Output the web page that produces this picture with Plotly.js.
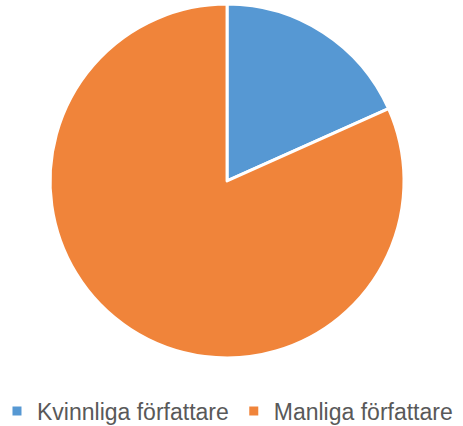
<!DOCTYPE html>
<html>
<head>
<meta charset="utf-8">
<script src="https://cdn.plot.ly/plotly-3.0.1.min.js"></script>
<style>html,body{margin:0;padding:0;background:#fff;}#chart{width:463px;height:426px;}</style>
</head>
<body>
<div id="chart"></div>
<script>
const labels = ["Kvinnliga författare", "Manliga författare"];
const values = [18.3, 81.7];
const colors = ["#5698D3", "#F0843A"];

Plotly.newPlot("chart", [{
  type: "pie",
  labels: labels,
  values: values,
  sort: false,
  direction: "clockwise",
  rotation: 0,
  textinfo: "none",
  hoverinfo: "label+percent",
  marker: {colors: colors, line: {color: "#ffffff", width: 3}},
  domain: {x: [0.1082, 0.8726], y: [0.096, 0.9899]}
}], {
  width: 463, height: 426,
  margin: {l: 0, r: 0, t: 0, b: 30, autoexpand: false},
  paper_bgcolor: "#ffffff",
  showlegend: true,
  legend: {
    orientation: "h", x: -0.0065, xanchor: "left", y: -0.0379, yanchor: "middle",
    font: {family: "Liberation Sans, Arial, sans-serif", size: 23, color: "#595959"},
    itemwidth: 30
  }
}, {displayModeBar: false, staticPlot: true});
</script>
</body>
</html>
